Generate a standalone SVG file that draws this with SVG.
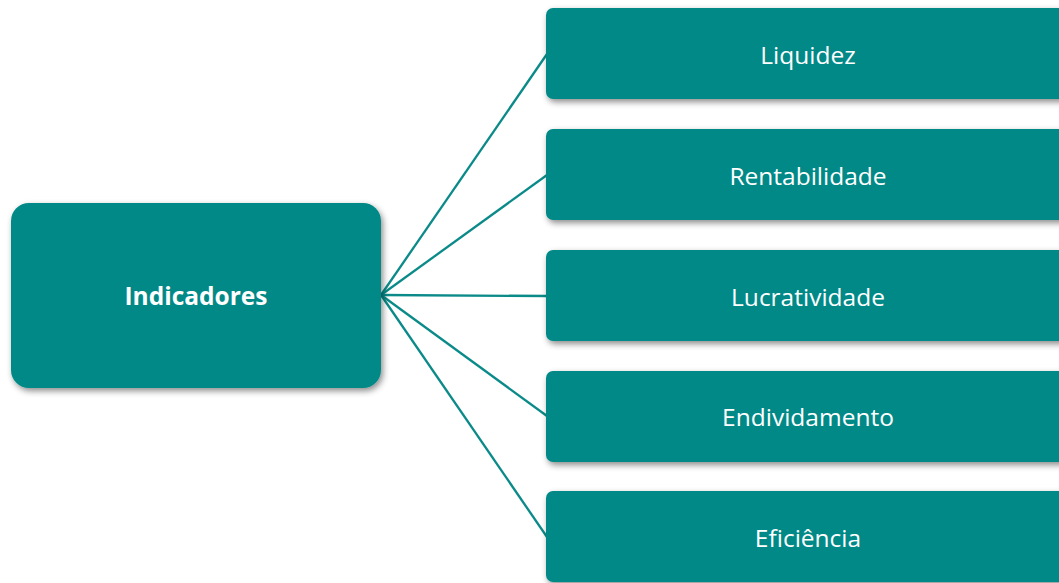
<svg xmlns="http://www.w3.org/2000/svg" width="1059" height="583" viewBox="0 0 1059 583">
<style>
.box{fill:#018987;filter:url(#sh);}
.lbl{font-family:"Open Sans","Noto Sans",sans-serif;font-size:24.5px;fill:#ffffff;text-anchor:middle;dominant-baseline:central;}
.b{font-weight:bold;}
.con line{stroke:#0a8a88;stroke-width:2.3;}
</style>
<defs>
<filter id="sh" x="-10%" y="-10%" width="130%" height="130%">
<feDropShadow dx="2" dy="3" stdDeviation="3" flood-color="#000" flood-opacity="0.45"/>
</filter>
</defs>
<rect width="1059" height="583" fill="#ffffff"/>
<g id="connectors" class="con">
<line x1="381" y1="295" x2="547" y2="54"/>
<line x1="381" y1="295" x2="547" y2="175"/>
<line x1="381" y1="295" x2="547" y2="296"/>
<line x1="381" y1="295" x2="547" y2="416"/>
<line x1="381" y1="295" x2="547" y2="537"/>
</g>
<g id="n-indicadores">
<rect class="box" x="11" y="203" width="370" height="185" rx="18"/>
<text class="lbl b" x="196" y="295">Indicadores</text>
</g>
<g id="n-liquidez">
<rect class="box" x="546" y="8" width="530" height="91" rx="7"/>
<text class="lbl" x="808" y="54">Liquidez</text>
</g>
<g id="n-rentabilidade">
<rect class="box" x="546" y="129" width="530" height="91" rx="7"/>
<text class="lbl" x="808" y="175">Rentabilidade</text>
</g>
<g id="n-lucratividade">
<rect class="box" x="546" y="250" width="530" height="91" rx="7"/>
<text class="lbl" x="808" y="296">Lucratividade</text>
</g>
<g id="n-endividamento">
<rect class="box" x="546" y="371" width="530" height="91" rx="7"/>
<text class="lbl" x="808" y="416">Endividamento</text>
</g>
<g id="n-eficiencia">
<rect class="box" x="546" y="491" width="530" height="91" rx="7"/>
<text class="lbl" x="808" y="537">Eficiência</text>
</g>
</svg>
